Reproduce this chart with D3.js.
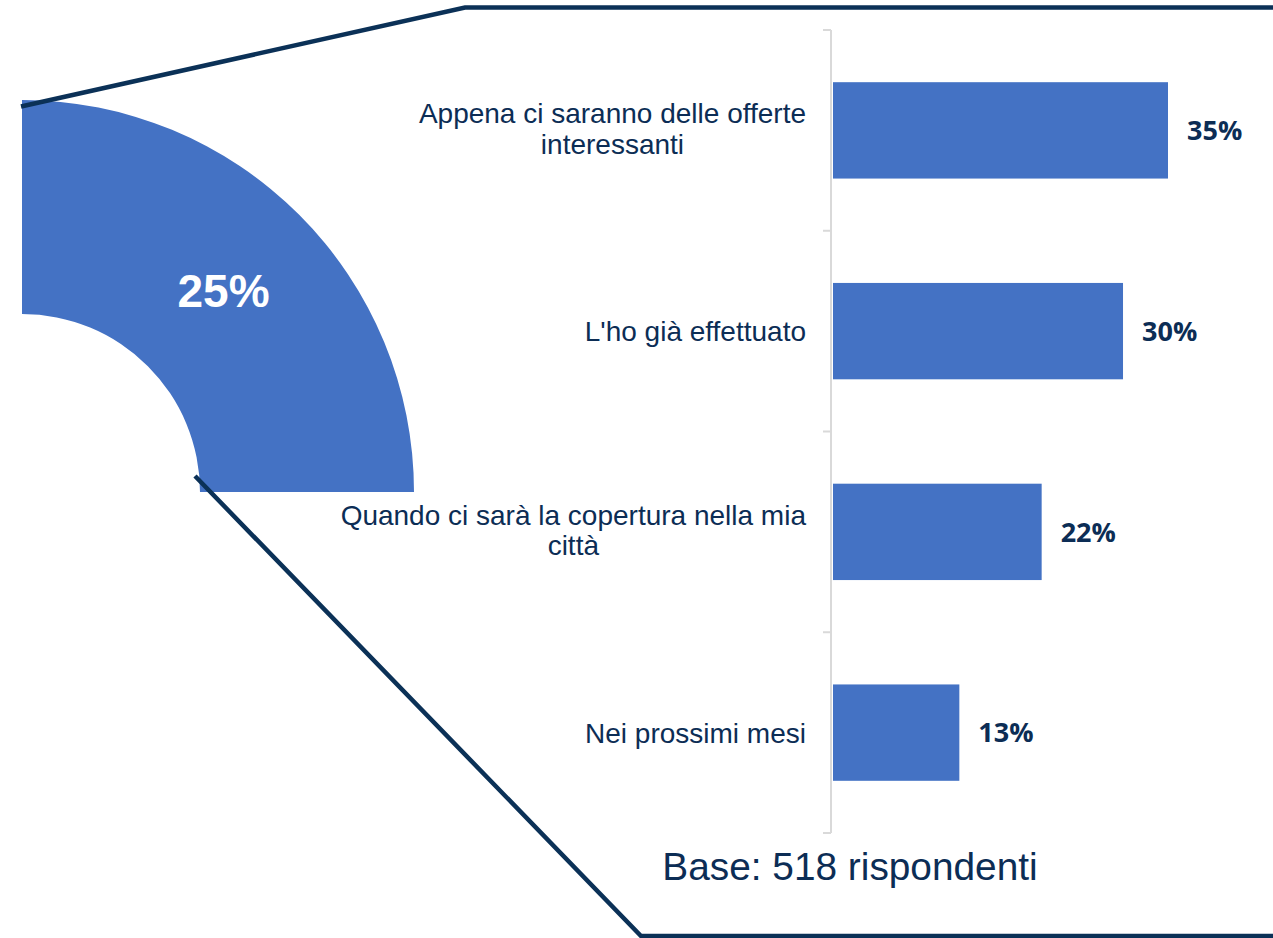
<!DOCTYPE html>
<html>
<head>
<meta charset="utf-8">
<script src="https://cdn.jsdelivr.net/npm/d3@7"></script>
<style>
  html, body { margin: 0; padding: 0; background: #fff; }
  svg { display: block; }
</style>
</head>
<body>
<svg id="chart" width="1273" height="938"></svg>
<script>
// ---- data ----
const categories = [
  ["Appena ci saranno delle offerte", "interessanti"],
  ["L'ho già effettuato"],
  ["Quando ci sarà la copertura nella mia", "città"],
  ["Nei prossimi mesi"]
];
const values = [35.0, 30.3, 21.8, 13.2];
const valueLabels = ["35%", "30%", "22%", "13%"];
const pieValues = [25, 75];
const pieLabel = "25%";
const baseNote = "Base: 518 rispondenti";

// ---- styles ----
const barColor = "#4472C4";
const navy = "#0c2d55";
const lineColor = "#0b3157";

const svg = d3.select("#chart");
const W = 1273, H = 938;

// ---- pie (quarter slice) ----
const pieCx = 22, pieCy = 492, rOuter = 392, rInner = 178;
const pie = d3.pie().sort(null).startAngle(0).endAngle(2 * Math.PI);
const arcs = pie(pieValues);
const arc = d3.arc().innerRadius(rInner).outerRadius(rOuter);
const pg = svg.append("g").attr("transform", `translate(${pieCx},${pieCy})`);
pg.append("path").attr("d", arc(arcs[0])).attr("fill", barColor);
const c = arc.centroid(arcs[0]);
pg.append("text")
  .attr("x", c[0]).attr("y", c[1])
  .attr("dy", "0.36em")
  .attr("text-anchor", "middle")
  .attr("font-family", "Liberation Sans, Arial, sans-serif")
  .attr("font-weight", "bold")
  .attr("font-size", 46)
  .attr("fill", "#fff")
  .text(pieLabel);

// ---- connector lines ----
const line = d3.line();
svg.append("path")
  .attr("d", line([[21, 106.5], [465, 7.5], [W, 7.5]]))
  .attr("fill", "none").attr("stroke", lineColor).attr("stroke-width", 4.5);
svg.append("path")
  .attr("d", line([[195, 476], [641, 936], [W, 936]]))
  .attr("fill", "none").attr("stroke", lineColor).attr("stroke-width", 4.5);

// ---- bar chart ----
const x0 = 833;
const x = d3.scaleLinear().domain([0, 35]).range([x0, 1168]);
const y = d3.scaleBand().domain(d3.range(categories.length)).range([30, 833]).padding(0);
const bh = y.bandwidth() * 0.48;

// axis
const ag = svg.append("g").attr("transform", `translate(831,0)`);
ag.append("line").attr("x1", 0).attr("x2", 0).attr("y1", 30).attr("y2", 833)
  .attr("stroke", "#d9d9d9").attr("stroke-width", 2);
const boundaries = d3.range(categories.length + 1).map(i => i === categories.length ? y.range()[1] : y(i));
ag.selectAll("line.tick").data(boundaries).join("line")
  .attr("class", "tick")
  .attr("x1", -8).attr("x2", 0)
  .attr("y1", d => d).attr("y2", d => d)
  .attr("stroke", "#d9d9d9").attr("stroke-width", 2);

// bars
svg.append("g").selectAll("rect").data(values).join("rect")
  .attr("x", x(0))
  .attr("y", (d, i) => y(i) + (y.bandwidth() - bh) / 2)
  .attr("width", d => x(d) - x(0))
  .attr("height", bh)
  .attr("fill", barColor);

// value labels
svg.append("g").selectAll("text").data(values).join("text")
  .attr("x", d => x(d) + 19)
  .attr("y", (d, i) => y(i) + y.bandwidth() / 2)
  .attr("dy", "0.36em")
  .attr("font-family", "Open Sans, sans-serif")
  .attr("font-weight", 700)
  .attr("font-size", 27)
  .attr("fill", navy)
  .text((d, i) => valueLabels[i]);

// category labels
const fs = 28, lh = 30.5;
const labelRight = 806;
const cg = svg.append("g")
  .attr("font-family", "Liberation Sans, Arial, sans-serif")
  .attr("font-size", fs)
  .attr("fill", navy);
categories.forEach((lines, i) => {
  const cy = y(i) + y.bandwidth() / 2;
  const t = cg.append("text").attr("text-anchor", "middle");
  const n = lines.length;
  const tmp = cg.append("text").text(lines[0]);
  let maxW = 0;
  lines.forEach(l => { tmp.text(l); maxW = Math.max(maxW, tmp.node().getComputedTextLength()); });
  tmp.remove();
  const cx = labelRight - maxW / 2;
  lines.forEach((l, k) => {
    t.append("tspan")
      .attr("x", cx)
      .attr("y", cy + (k - (n - 1) / 2) * lh + fs * 0.36 - (n > 1 ? 2 : 0))
      .text(l);
  });
});

// base note
svg.append("text")
  .attr("x", 850).attr("y", 880)
  .attr("text-anchor", "middle")
  .attr("font-family", "Liberation Sans, Arial, sans-serif")
  .attr("font-size", 38.8)
  .attr("fill", navy)
  .text(baseNote);
</script>
</body>
</html>
